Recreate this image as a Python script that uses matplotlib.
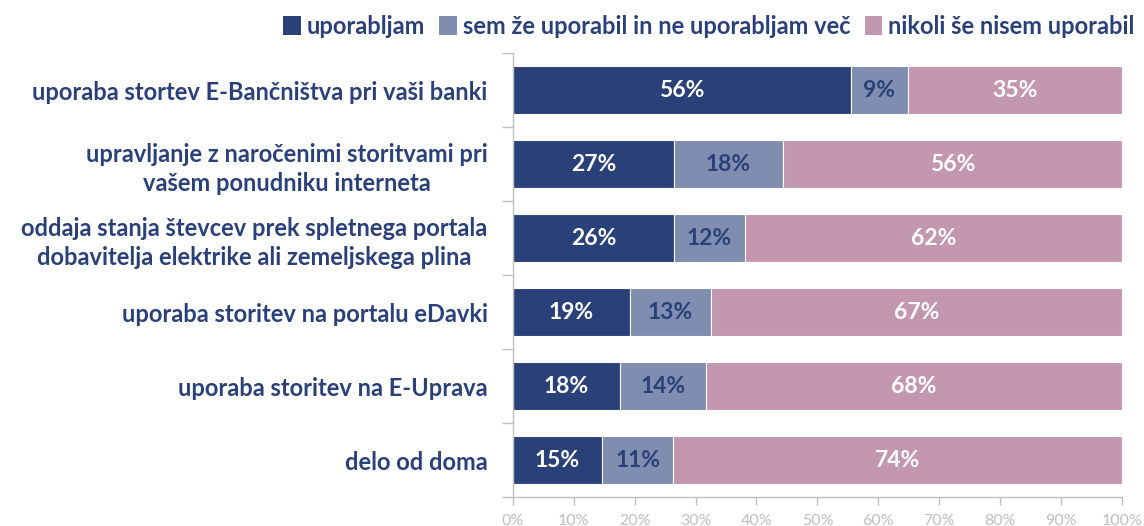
import matplotlib
matplotlib.use("Agg")
import matplotlib.pyplot as plt
from matplotlib.patches import Patch
import numpy as np

categories = [
    "uporaba stortev E-Bančništva pri vaši banki",
    "upravljanje z naročenimi storitvami pri\nvašem ponudniku interneta",
    "oddaja stanja števcev prek spletnega portala\ndobavitelja elektrike ali zemeljskega plina",
    "uporaba storitev na portalu eDavki",
    "uporaba storitev na E-Uprava",
    "delo od doma",
]
series_names = ["uporabljam", "sem že uporabil in ne uporabljam več", "nikoli še nisem uporabil"]
uporabljam = [55.5, 26.5, 26.5, 19.2, 17.6, 14.7]
ze_uporabil = [9.3, 17.8, 11.6, 13.4, 14.1, 11.6]
nikoli = [35.2, 55.7, 61.9, 67.4, 68.3, 73.7]
labels_uporabljam = [56, 27, 26, 19, 18, 15]
labels_ze = [9, 18, 12, 13, 14, 11]
labels_nikoli = [35, 56, 62, 67, 68, 74]
xticks = [0, 10, 20, 30, 40, 50, 60, 70, 80, 90, 100]

navy = "#2A4079"
mid = "#7F8EB0"
pink = "#C397AF"
grey = "#BFBFBF"

plt.rcParams['font.family'] = ['Lato', 'DejaVu Sans']
W = "bold"

fig = plt.figure(figsize=(11.44, 5.26), dpi=100)
ax = fig.add_axes([0.4482, 0.0551, 0.9808 - 0.4482, 0.8992 - 0.0551])

y = np.arange(len(categories))
h = 0.66
left = np.zeros(len(categories))
series = [uporabljam, ze_uporabil, nikoli]
lab = [labels_uporabljam, labels_ze, labels_nikoli]
colors = [navy, mid, pink]
txtcol = ["white", navy, "white"]
for vals, labs, c, tc in zip(series, lab, colors, txtcol):
    vals = np.array(vals, dtype=float)
    ax.barh(y, vals, left=left, height=h, color=c, edgecolor="white", linewidth=0.8)
    for yi, (l, v, t) in enumerate(zip(left, vals, labs)):
        ax.text(l + v / 2, yi, f"{t}%", ha="center", va="center", color=tc,
                fontsize=16.5, fontweight=W)
    left = left + vals

ax.set_xlim(0, 100)
ax.set_ylim(len(categories) - 0.5, -0.5)
ax.set_xticks(xticks)
ax.set_xticklabels([f"{t}%" for t in xticks], color=grey, fontsize=11.5)
ax.set_yticks(y)
ax.set_yticklabels(categories, color=navy, fontsize=17, fontweight=W,
                   ha="right", multialignment="center", linespacing=1.3)
ax.tick_params(axis="y", length=0, pad=18)
ax.set_yticks(np.arange(-0.5, len(categories), 1), minor=True)
ax.tick_params(axis="y", which="minor", length=8, color=grey, width=1)
ax.tick_params(axis="x", length=6, color=grey, width=1, pad=6)
for s in ["top", "right"]:
    ax.spines[s].set_visible(False)
for s in ["left", "bottom"]:
    ax.spines[s].set_color(grey)
    ax.spines[s].set_linewidth(1)

handles = [Patch(facecolor=c, edgecolor="none") for c in colors]
leg = fig.legend(handles, series_names, loc="upper right", bbox_to_anchor=(1.0, 0.99),
                 ncol=3, frameon=False, handlelength=0.75, handleheight=0.8,
                 handletextpad=0.25, columnspacing=0.6, borderaxespad=0.2, borderpad=0.2,
                 prop={"weight": W, "size": 17, "family": ['Lato', 'DejaVu Sans']})
for t in leg.get_texts():
    t.set_color(navy)

fig.savefig("out.png", dpi=100)
